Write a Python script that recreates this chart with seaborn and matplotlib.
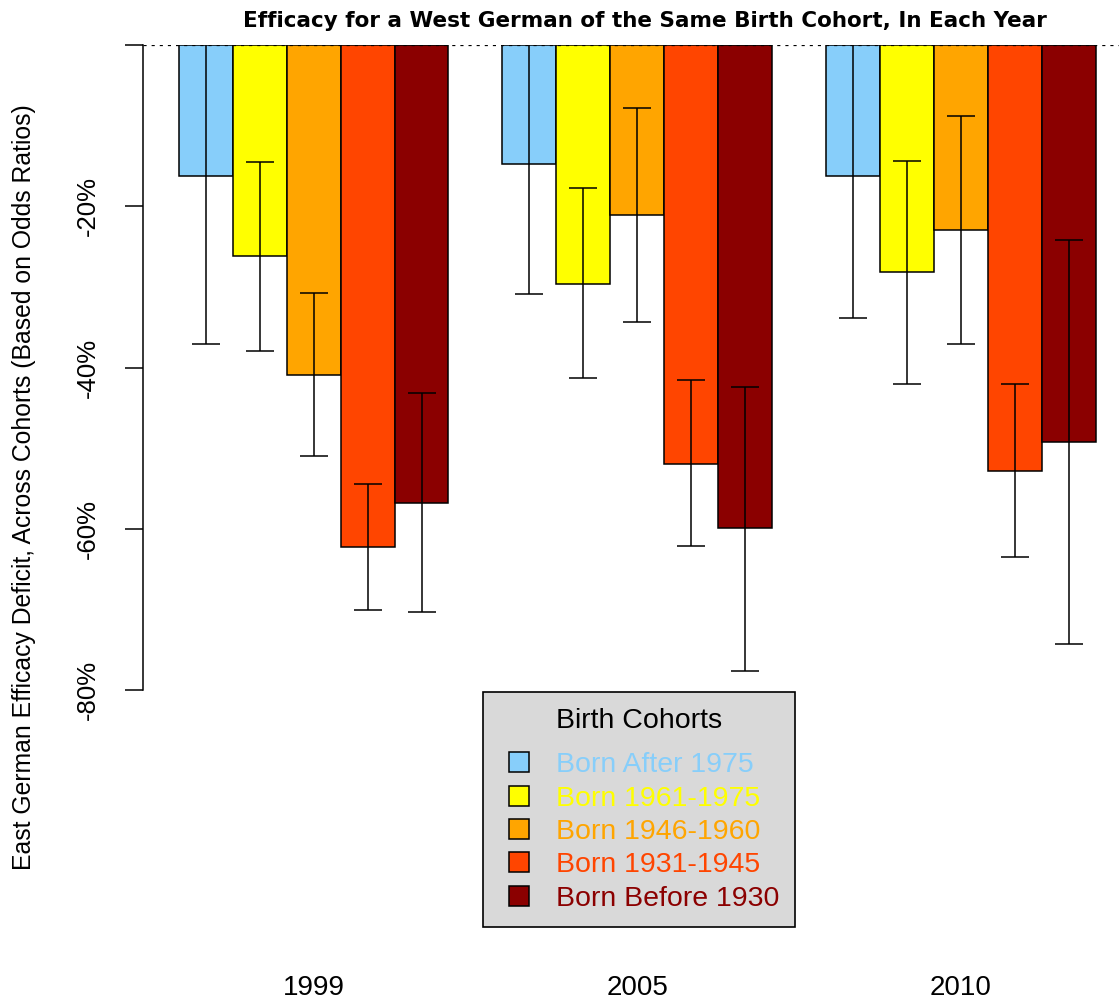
import numpy as np
import pandas as pd
import matplotlib
matplotlib.use("Agg")
import matplotlib.pyplot as plt
from matplotlib.lines import Line2D
import seaborn as sns

# --- Data (% deficit vs. West Germans) ---
years = ["1999", "2005", "2010"]
cohorts = ["Born After 1975", "Born 1961-1975", "Born 1946-1960",
           "Born 1931-1945", "Born Before 1930"]
colors = ["#87CEFA", "#FFFF00", "#FFA500", "#FF4500", "#8B0000"]

deficit_1999 = [-16.2, -26.2, -40.9, -62.2, -56.8]
deficit_2005 = [-14.8, -29.6, -21.1, -51.9, -59.9]
deficit_2010 = [-16.2, -28.2, -22.9, -52.8, -49.2]

ci_low_1999 = [-37.1, -37.9, -51.0, -70.1, -70.3]
ci_low_2005 = [-30.9, -41.3, -34.4, -62.1, -77.6]
ci_low_2010 = [-33.9, -42.1, -37.1, -63.5, -74.3]

# upper bounds of the youngest cohort run past 0 and are clipped in the original
ci_high_1999 = [4.0, -14.5, -30.8, -54.4, -43.1]
ci_high_2005 = [1.0, -17.7, -7.8, -41.6, -42.4]
ci_high_2010 = [1.5, -14.4, -8.8, -42.0, -24.2]

yticks = [0, -20, -40, -60, -80]
ytick_labels = ["", "-20%", "-40%", "-60%", "-80%"]

# --- Long-format table ---
rows = []
for yr, est, lo, hi in zip(years,
                           [deficit_1999, deficit_2005, deficit_2010],
                           [ci_low_1999, ci_low_2005, ci_low_2010],
                           [ci_high_1999, ci_high_2005, ci_high_2010]):
    for c, e, l, h in zip(cohorts, est, lo, hi):
        rows.append({"year": yr, "cohort": c, "deficit": e, "lo": l, "hi": h})
df = pd.DataFrame(rows)

# --- Plot ---
sns.set_theme(style="white")
plt.rcParams["font.family"] = ["Liberation Sans", "DejaVu Sans"]
for k in ["text.color", "axes.labelcolor", "xtick.color", "ytick.color"]:
    plt.rcParams[k] = "black"

W, H = 1119, 1001
fig = plt.figure(figsize=(W / 100, H / 100), dpi=100)
ax_left, ax_top, ax_bottom = 143, 45, 932
ax = fig.add_axes([ax_left / W, 1 - ax_bottom / H, 1 - ax_left / W, (ax_bottom - ax_top) / H])

sns.barplot(data=df, x="year", y="deficit", hue="cohort", hue_order=cohorts,
            palette=colors, saturation=1, width=5 / 6, errorbar=None,
            edgecolor="black", linewidth=1.1, legend=False, ax=ax)

# error bars placed on the bars seaborn drew
for cohort, cont in zip(cohorts, ax.containers):
    for bar in cont:
        xc = bar.get_x() + bar.get_width() / 2
        yr = years[int(round(xc))]
        r = df[(df.year == yr) & (df.cohort == cohort)].iloc[0]
        ax.errorbar(xc, r.deficit, yerr=[[r.deficit - r.lo], [r.hi - r.deficit]],
                    fmt="none", ecolor="black", elinewidth=1.1, capsize=10,
                    capthick=1.1, zorder=3)

ax.axhline(0, color="black", lw=0.9, ls=(0, (2.5, 4)), zorder=4)

ax.set_ylim(-110, 0)
ax.set_xlim(-0.527, 2.488)
for s in ["top", "right", "bottom"]:
    ax.spines[s].set_visible(False)
ax.spines["left"].set_bounds(-80, 0)
ax.spines["left"].set_color("black")
ax.spines["left"].set_linewidth(1.1)

ax.set_yticks(yticks)
ax.set_yticklabels(ytick_labels)
ax.tick_params(axis="y", left=True, length=13, width=1.1, color="black",
               pad=18, labelsize=18.5, labelrotation=90)
for t in ax.get_yticklabels():
    t.set_va("center")
ax.tick_params(axis="x", length=0, pad=31, labelsize=20)
ax.set_xlabel("")
ax.set_ylabel("")

fig.text(24 / W, 1 - 487 / H,
         "East German Efficacy Deficit, Across Cohorts (Based on Odds Ratios)",
         rotation=90, ha="center", va="center", fontsize=17.8)
fig.text(645 / W, 1 - 21 / H,
         "Efficacy for a West German of the Same Birth Cohort, In Each Year",
         ha="center", va="center", fontsize=15.5, fontweight="bold",
         family=["DejaVu Sans"])

handles = [Line2D([], [], ls="none", marker="s", markersize=15,
                  markerfacecolor=c, markeredgecolor="black", markeredgewidth=1.1)
           for c in colors]
leg = ax.legend(handles, cohorts, title="Birth Cohorts", loc="upper left",
                bbox_to_anchor=(483 / W, 1 - 692 / H), bbox_transform=fig.transFigure,
                frameon=True, fancybox=False, facecolor="#D9D9D9", edgecolor="black",
                framealpha=1, fontsize=20.5, title_fontsize=20.5, labelcolor=colors,
                handlelength=1.4, handletextpad=0.6,
                labelspacing=0.26, borderpad=0.55, borderaxespad=0)
leg.get_frame().set_linewidth(1.2)
leg._legend_box.sep = 13.3
leg.set_zorder(5)

fig.savefig("out.png", dpi=100)
